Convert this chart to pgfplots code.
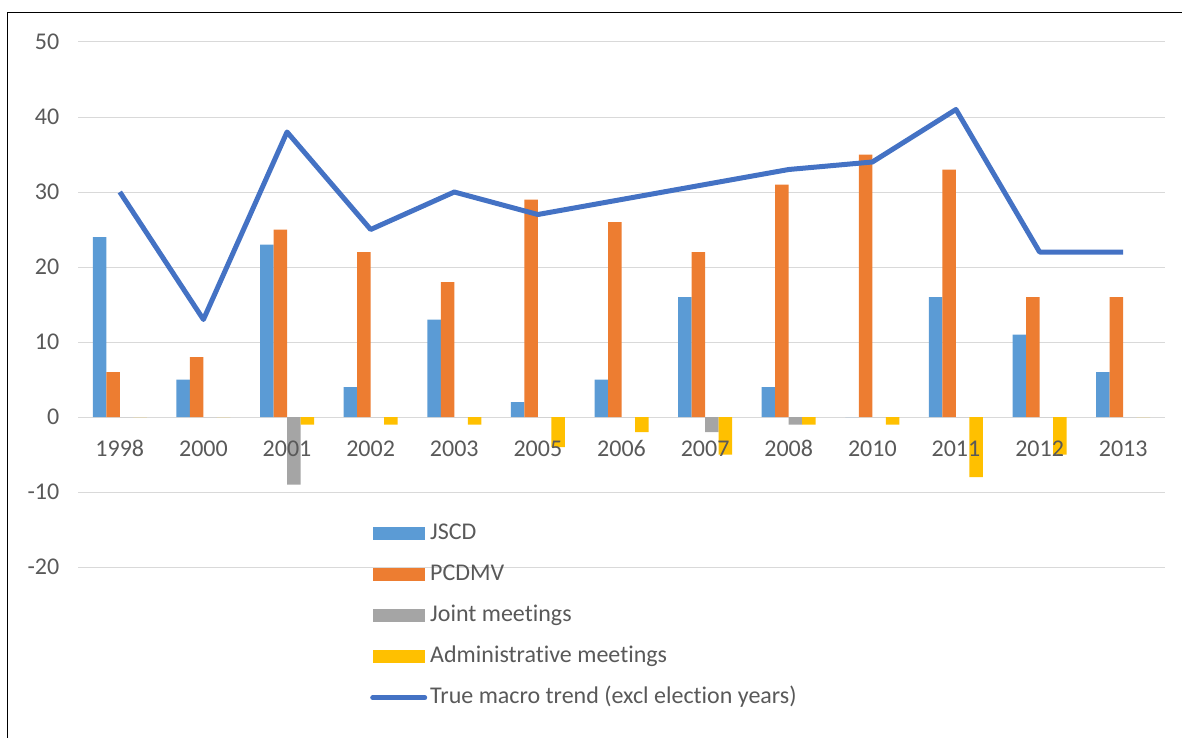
\documentclass[border=0pt]{standalone}
\usepackage{fontspec}
\setmainfont[Ligatures={NoCommon}]{Carlito}
\usepackage{pgfplots}
\pgfplotsset{compat=1.18}
\definecolor{cJ}{HTML}{5B9BD5}
\definecolor{cP}{HTML}{ED7D31}
\definecolor{cG}{HTML}{A5A5A5}
\definecolor{cA}{HTML}{FFC000}
\definecolor{cT}{HTML}{4472C4}
\definecolor{gridc}{HTML}{D9D9D9}
\definecolor{tickc}{HTML}{595959}
\begin{document}
\begin{tikzpicture}
\useasboundingbox (0,0) rectangle (886.5pt,-553.5pt);
\draw[line width=1.1pt] (5.6pt,-560pt) -- (5.6pt,-9.4pt) -- (895pt,-9.4pt);
\begin{axis}[
  at={(58.5pt,-425.25pt)}, anchor=south west, scale only axis,
  width=815.25pt, height=393.75pt,
  xmin=-0.5, xmax=12.5, ymin=-20, ymax=50,
  xtick=\empty,
  ytick={-20,-10,...,50},
  ymajorgrids, grid style={color=gridc, line width=0.75pt},
  axis line style={draw=none}, major tick length=0pt,
  tick label style={font=\fontsize{18}{21.6}\selectfont, text=tickc},
  /pgf/number format/assume math mode=true,
  yticklabel style={xshift=-10.5pt},
  clip=false,
  legend cell align=left,
  legend style={at={(0.2686,0.0857)}, anchor=north west, draw=none, fill=none,
    font=\fontsize{18}{21.6}\selectfont, text=tickc, inner sep=0pt,
    row sep=13.75pt,
    nodes={inner sep=0pt, inner xsep=2.25pt, text height=13pt, text depth=4pt}},
]
\addplot[ybar, bar width=10.125pt, bar shift=-15.1875pt, fill=cJ, draw=none,
  legend image code/.code={\fill[cJ] (0pt,-4.9pt) rectangle (39pt,4.9pt);}]
  coordinates {(0,24) (1,5) (2,23) (3,4) (4,13) (5,2) (6,5) (7,16) (8,4) (9,0) (10,16) (11,11) (12,6)};
\addlegendentry{JSCD}
\addplot[ybar, bar width=10.125pt, bar shift=-5.0625pt, fill=cP, draw=none,
  legend image code/.code={\fill[cP] (0pt,-4.9pt) rectangle (39pt,4.9pt);}]
  coordinates {(0,6) (1,8) (2,25) (3,22) (4,18) (5,29) (6,26) (7,22) (8,31) (9,35) (10,33) (11,16) (12,16)};
\addlegendentry{PCDMV}
\addplot[ybar, bar width=10.125pt, bar shift=5.0625pt, fill=cG, draw=none,
  legend image code/.code={\fill[cG] (0pt,-4.9pt) rectangle (39pt,4.9pt);}]
  coordinates {(0,0) (1,0) (2,-9) (3,0) (4,0) (5,0) (6,0) (7,-2) (8,-1) (9,0) (10,0) (11,0) (12,0)};
\addlegendentry{Joint meetings}
\addplot[ybar, bar width=10.125pt, bar shift=15.1875pt, fill=cA, draw=none,
  legend image code/.code={\fill[cA] (0pt,-4.9pt) rectangle (39pt,4.9pt);}]
  coordinates {(0,0) (1,0) (2,-1) (3,-1) (4,-1) (5,-4) (6,-2) (7,-5) (8,-1) (9,-1) (10,-8) (11,-5) (12,0)};
\addlegendentry{Administrative meetings}
\addplot[cT, line width=3.75pt, line join=round, mark=none,
  legend image code/.code={\draw[cT, line width=3.75pt, line cap=round] (0pt,0pt) -- (39pt,0pt);}]
  coordinates {(0,30) (1,13) (2,38) (3,25) (4,30) (5,27) (6,29) (7,31) (8,33) (9,34) (10,41) (11,22) (12,22)};
\addlegendentry{True macro trend (excl election years)}
\begin{scope}[every node/.style={anchor=base, yshift=-29.25pt, inner sep=0pt,
    font=\fontsize{18}{21.6}\selectfont, text=tickc}]
\node at (axis cs:0,0) {1998};
\node at (axis cs:1,0) {2000};
\node at (axis cs:2,0) {2001};
\node at (axis cs:3,0) {2002};
\node at (axis cs:4,0) {2003};
\node at (axis cs:5,0) {2005};
\node at (axis cs:6,0) {2006};
\node at (axis cs:7,0) {2007};
\node at (axis cs:8,0) {2008};
\node at (axis cs:9,0) {2010};
\node at (axis cs:10,0) {2011};
\node at (axis cs:11,0) {2012};
\node at (axis cs:12,0) {2013};
\end{scope}
\end{axis}
\end{tikzpicture}
\end{document}
